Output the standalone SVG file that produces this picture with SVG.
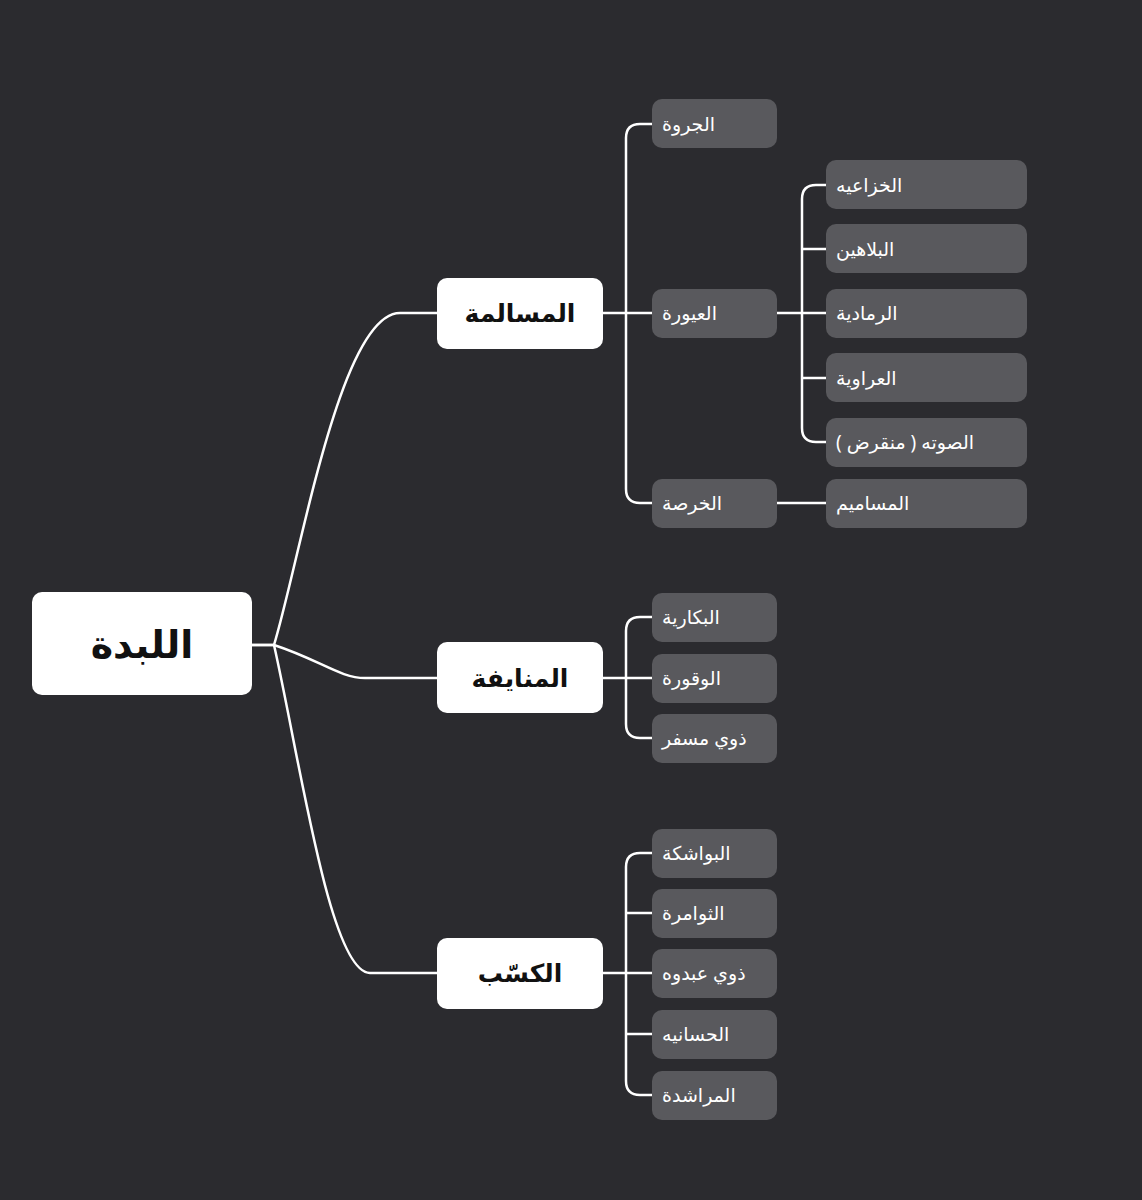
<svg xmlns="http://www.w3.org/2000/svg" width="1142" height="1200" viewBox="0 0 1142 1200">
<style>
.root{fill:#fff}
.l1{fill:#fff}
.leaf{fill:#59595d}
.c{fill:none;stroke:#fff;stroke-width:2.5;stroke-linecap:round}
.t0{font-family:"Noto Sans","DejaVu Sans",sans-serif;font-weight:bold;font-size:38px;fill:#111;text-anchor:middle}
.t1{font-family:"Noto Sans","DejaVu Sans",sans-serif;font-weight:bold;font-size:25px;fill:#111;text-anchor:middle}
.t2{font-family:"Noto Sans","DejaVu Sans",sans-serif;font-size:19px;fill:#fff}
</style>
<rect width="1142" height="1200" fill="#2b2b2f"/>
<g id="connectors">
<path class="c" d="M252,645 H274 C300,560 340,313 400,313 H437"/>
<path class="c" d="M252,645 H274 C320,660 340,678 365,678 H437"/>
<path class="c" d="M274,645 C300,760 330,973 370,973 H437"/>
<path class="c" d="M603,313 H652 M652,124 H640 Q626,124 626,138 V489 Q626,503 640,503 H652"/>
<path class="c" d="M777,313 H826 M826,185 H816 Q802,185 802,199 V428 Q802,442 816,442 H826 M802,249 H826 M802,378 H826"/>
<path class="c" d="M777,503 H826"/>
<path class="c" d="M603,678 H652 M652,617 H640 Q626,617 626,631 V724 Q626,738 640,738 H652"/>
<path class="c" d="M603,973 H652 M652,853 H640 Q626,853 626,867 V1081 Q626,1095 640,1095 H652 M626,913 H652 M626,1034 H652"/>
</g>
<g id="root"><rect class="root" x="32" y="592" width="220" height="103" rx="10"/><text class="t0" x="142" y="658">اللبدة</text></g>
<g id="n1"><rect class="l1" x="437" y="278" width="166" height="71" rx="10"/><text class="t1" x="520" y="322">المسالمة</text></g>
<g id="n2"><rect class="l1" x="437" y="642" width="166" height="71" rx="10"/><text class="t1" x="520" y="687">المنايفة</text></g>
<g id="n3"><rect class="l1" x="437" y="938" width="166" height="71" rx="10"/><text class="t1" x="520" y="982">الكسّب</text></g>
<g id="a1"><rect class="leaf" x="652" y="99" width="125" height="49" rx="10"/><text class="t2" x="662" y="131">الجروة</text></g>
<g id="a2"><rect class="leaf" x="652" y="289" width="125" height="49" rx="10"/><text class="t2" x="662" y="320">العيورة</text></g>
<g id="a3"><rect class="leaf" x="652" y="479" width="125" height="49" rx="10"/><text class="t2" x="662" y="510">الخرصة</text></g>
<g id="b1"><rect class="leaf" x="826" y="160" width="201" height="49" rx="10"/><text class="t2" x="836" y="192">الخزاعيه</text></g>
<g id="b2"><rect class="leaf" x="826" y="224" width="201" height="49" rx="10"/><text class="t2" x="836" y="256">البلاهين</text></g>
<g id="b3"><rect class="leaf" x="826" y="289" width="201" height="49" rx="10"/><text class="t2" x="836" y="320">الرمادية</text></g>
<g id="b4"><rect class="leaf" x="826" y="353" width="201" height="49" rx="10"/><text class="t2" x="836" y="385">العراوية</text></g>
<g id="b5"><rect class="leaf" x="826" y="418" width="201" height="49" rx="10"/><text class="t2" x="836" y="449">الصوته ( منقرض )</text></g>
<g id="b6"><rect class="leaf" x="826" y="479" width="201" height="49" rx="10"/><text class="t2" x="836" y="510">المساميم</text></g>
<g id="c1"><rect class="leaf" x="652" y="593" width="125" height="49" rx="10"/><text class="t2" x="662" y="624">البكارية</text></g>
<g id="c2"><rect class="leaf" x="652" y="654" width="125" height="49" rx="10"/><text class="t2" x="662" y="685">الوقورة</text></g>
<g id="c3"><rect class="leaf" x="652" y="714" width="125" height="49" rx="10"/><text class="t2" x="662" y="745">ذوي مسفر</text></g>
<g id="d1"><rect class="leaf" x="652" y="829" width="125" height="49" rx="10"/><text class="t2" x="662" y="860">البواشكة</text></g>
<g id="d2"><rect class="leaf" x="652" y="889" width="125" height="49" rx="10"/><text class="t2" x="662" y="920">الثوامرة</text></g>
<g id="d3"><rect class="leaf" x="652" y="949" width="125" height="49" rx="10"/><text class="t2" x="662" y="980">ذوي عبدوه</text></g>
<g id="d4"><rect class="leaf" x="652" y="1010" width="125" height="49" rx="10"/><text class="t2" x="662" y="1041">الحسانيه</text></g>
<g id="d5"><rect class="leaf" x="652" y="1071" width="125" height="49" rx="10"/><text class="t2" x="662" y="1102">المراشدة</text></g>
</svg>
